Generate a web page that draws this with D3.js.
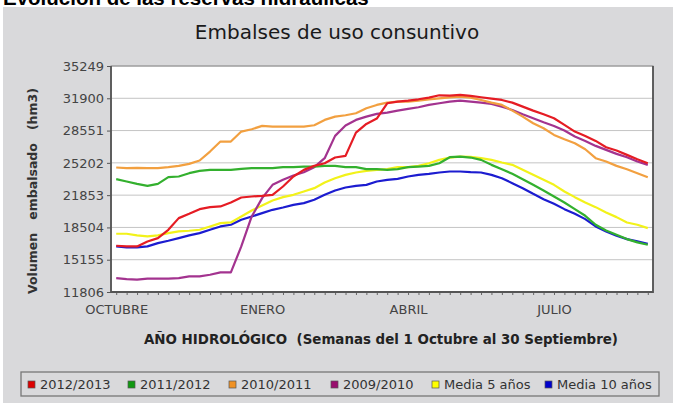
<!DOCTYPE html>
<html>
<head>
<meta charset="utf-8">
<script src="https://cdn.jsdelivr.net/npm/d3@7"></script>
<style>
  body { margin: 0; background: #fff; }
  svg text { font-family: "DejaVu Sans", sans-serif; }
</style>
</head>
<body>
<div class="chartWrapper"></div>
<script>
// weeks of the hydrological year (1 Oct .. 30 Sep)
var weeks = d3.range(1, 53);
var monthLabels = ["OCTUBRE", "ENERO", "ABRIL", "JULIO"];
var monthWeeks = [1, 15, 29, 43];
var yTicks = [11806, 15155, 18504, 21853, 25202, 28551, 31900, 35249];

var seriesNames = ["2012/2013", "2011/2012", "2010/2011", "2009/2010", "Media 5 años", "Media 10 años"];

var s2012_2013 = [16603,16534,16534,17052,17397,18261,19469,19918,20402,20609,20678,21092,21610,21714,21783,21886,22750,23785,24476,24890,25167,25754,25926,28343,29241,29794,31382,31555,
                  31658,31796,31969,32211,32176,32245,32142,32004,31866,31727,31451,31037,30622,30243,29828,29138,28447,27998,27480,26824,26479,26030,25581,25167];
var s2011_2012 = [23509,23268,23026,22819,23026,23716,23785,24131,24373,24476,24476,24476,24580,24649,24649,24649,24752,24752,24821,24821,24890,24890,24752,24752,24545,24545,24476,24545,
                  24752,24821,24890,25167,25788,25857,25754,25512,24994,24545,24062,23509,22922,22335,21714,21092,20402,19711,18779,18192,17743,17294,16949,16707];
var s2010_2011 = [24718,24649,24683,24649,24649,24752,24890,25098,25443,26375,27411,27411,28447,28689,29034,28965,28965,28965,28965,29103,29656,30001,30139,30346,30864,31209,31451,31555,
                  31555,31658,31796,31900,32004,32073,31969,31727,31451,31209,30622,30001,29310,28792,28102,27653,27238,26617,25685,25339,24890,24545,24131,23716];
var s2009_2010 = [13254,13150,13081,13185,13185,13185,13254,13426,13426,13599,13841,13841,16534,19642,21541,22922,23440,23889,24234,24752,25685,27998,29069,29656,30001,30277,30415,30622,
                  30795,30968,31209,31382,31555,31658,31555,31451,31313,31037,30691,30243,29828,29414,29034,28551,27929,27480,26962,26548,26134,25788,25339,24994];
var media5 = [17846,17846,17674,17570,17674,17915,18088,18157,18261,18606,18951,19020,19642,20263,20781,21299,21645,21886,22232,22577,23164,23613,23958,24200,24373,24476,24545,24752,
              24752,24890,25167,25512,25754,25857,25823,25685,25512,25236,24994,24476,23958,23440,22922,22232,21645,21092,20609,20056,19573,19020,18779,18433];
var media10 = [16534,16431,16431,16534,16879,17121,17397,17674,17915,18261,18606,18779,19297,19642,19987,20332,20574,20850,21023,21368,21886,22335,22646,22819,22922,23268,23440,23544,
               23785,23958,24062,24200,24303,24303,24234,24200,23958,23613,23095,22577,21990,21437,20954,20402,19918,19366,18606,18088,17639,17294,17052,16810];

var seriesData = [s2012_2013, s2011_2012, s2010_2011, s2009_2010, media5, media10];
var lineColors = ["#e51c24", "#33b02e", "#f2a040", "#a3338f", "#f2f21a", "#1c1cd0"];
var legendColors = ["#dd0000", "#119911", "#f09225", "#990f6e", "#ffff00", "#0000cc"];

var chartView = {
    width: 673,
    height: 403,
    plot: { left: 111, top: 66, right: 653, bottom: 292 },
    init: function () {
        this.svg = d3.select(".chartWrapper")
            .append("svg")
            .attr("width", this.width)
            .attr("height", this.height);
        this.xScale = d3.scalePoint()
            .domain(weeks)
            .range([this.plot.left, this.plot.right])
            .padding(0.5);
        this.yScale = d3.scaleLinear()
            .domain([yTicks[0], yTicks[yTicks.length - 1]])
            .range([this.plot.bottom, this.plot.top]);
    },
    render: function () {
        this.init();
        this.drawFrame();
        this.drawAxis();
        this.drawLines();
        this.drawLegend();
    },
    drawFrame: function () {
        var svg = this.svg, p = this.plot;
        // page header, cut off at the top like in the screenshot
        svg.append("text")
            .attr("x", 3).attr("y", 5)
            .style("font-family", "'Liberation Sans', Arial, sans-serif")
            .style("font-weight", "bold")
            .style("font-size", "20.5px")
            .attr("fill", "#000")
            .text("Evolución de las reservas hidráulicas");
        svg.append("rect")
            .attr("x", 3).attr("y", 7)
            .attr("width", this.width - 3).attr("height", this.height - 7)
            .attr("fill", "#d9d9db");
        svg.append("text")
            .attr("x", 337).attr("y", 39)
            .attr("text-anchor", "middle")
            .style("font-size", "20px")
            .attr("fill", "#1a1a1a")
            .text("Embalses de uso consuntivo");
        svg.append("rect")
            .attr("x", p.left).attr("y", p.top)
            .attr("width", p.right - p.left).attr("height", p.bottom - p.top)
            .attr("fill", "#fff");
    },
    drawAxis: function () {
        var svg = this.svg, p = this.plot,
            xScale = this.xScale, yScale = this.yScale;

        // horizontal gridlines
        svg.append("g")
            .selectAll("line")
            .data(yTicks)
            .enter()
            .append("line")
            .attr("x1", p.left).attr("x2", p.right)
            .attr("y1", function (d) { return yScale(d); })
            .attr("y2", function (d) { return yScale(d); })
            .attr("stroke", "#c4c4c4")
            .attr("stroke-width", 1);

        var xAxis = d3.axisBottom(xScale)
            .tickValues(weeks)
            .tickSize(3)
            .tickPadding(10)
            .tickFormat(function (d) {
                var k = monthWeeks.indexOf(d);
                return k >= 0 ? monthLabels[k] : "";
            });
        var gx = svg.append("g")
            .attr("transform", "translate(0," + p.bottom + ")")
            .call(xAxis);
        gx.select(".domain").remove();
        gx.selectAll(".tick line").attr("stroke", "#666");
        gx.selectAll("text").style("font-size", "13px").attr("fill", "#444");

        var yAxis = d3.axisLeft(yScale)
            .tickValues(yTicks)
            .tickSize(4)
            .tickPadding(3)
            .tickFormat(d3.format("d"));
        var gy = svg.append("g")
            .attr("transform", "translate(" + p.left + ",0)")
            .call(yAxis);
        gy.select(".domain").remove();
        gy.selectAll(".tick line").attr("stroke", "#555");
        gy.selectAll("text").style("font-size", "13px").attr("fill", "#444");

        // plot outline
        svg.append("rect")
            .attr("x", p.left).attr("y", p.top)
            .attr("width", p.right - p.left).attr("height", p.bottom - p.top)
            .attr("fill", "none")
            .attr("stroke", "#8a8a8a")
            .attr("stroke-width", 1);
        svg.append("path")
            .attr("d", "M" + p.left + "," + p.top + "V" + p.bottom + "H" + p.right + "V" + p.top)
            .attr("fill", "none")
            .attr("stroke", "#555")
            .attr("stroke-width", 1.8);

        svg.append("text")
            .attr("transform", "translate(37,191) rotate(-90)")
            .attr("text-anchor", "middle")
            .style("font-size", "12.5px")
            .style("font-weight", "bold")
            .style("white-space", "pre")
            .attr("fill", "#333")
            .text("Volumen   embalsado   (hm3)");

        svg.append("text")
            .attr("x", 381).attr("y", 344)
            .attr("text-anchor", "middle")
            .style("font-size", "13.4px")
            .style("font-weight", "bold")
            .style("white-space", "pre")
            .attr("fill", "#222")
            .text("AÑO HIDROLÓGICO  (Semanas del 1 Octubre al 30 Septiembre)");
    },
    drawLines: function () {
        var xScale = this.xScale, yScale = this.yScale;
        var linePath = d3.line()
            .x(function (d, i) { return xScale(weeks[i]); })
            .y(function (d) { return yScale(d); });
        // last series first so 2012/2013 sits on top
        var order = d3.range(seriesData.length).reverse();
        this.svg.append("g")
            .selectAll("path")
            .data(order)
            .enter()
            .append("path")
            .attr("d", function (k) { return linePath(seriesData[k]); })
            .attr("fill", "none")
            .attr("stroke-width", 2.2)
            .attr("stroke-linejoin", "round")
            .attr("stroke", function (k) { return lineColors[k]; });
    },
    drawLegend: function () {
        var svg = this.svg;
        var squareX = [28, 128, 229, 331, 432, 545];
        svg.append("rect")
            .attr("x", 21).attr("y", 372)
            .attr("width", 638).attr("height", 24)
            .attr("fill", "none")
            .attr("stroke", "#777")
            .attr("stroke-width", 1.3);
        var gMark = svg.selectAll(".gMark")
            .data(seriesNames)
            .enter()
            .append("g")
            .attr("class", "gMark")
            .attr("transform", function (d, i) { return "translate(" + squareX[i] + ",381)"; });
        gMark.append("rect")
            .attr("width", 7).attr("height", 7)
            .attr("fill", function (d, i) { return legendColors[i]; })
            .attr("stroke", "#555")
            .attr("stroke-width", 0.7);
        gMark.append("text")
            .attr("x", 12).attr("y", 8)
            .style("font-size", "13px")
            .attr("fill", "#333")
            .text(function (d) { return d; });
    }
};

chartView.render();
</script>
</body>
</html>
